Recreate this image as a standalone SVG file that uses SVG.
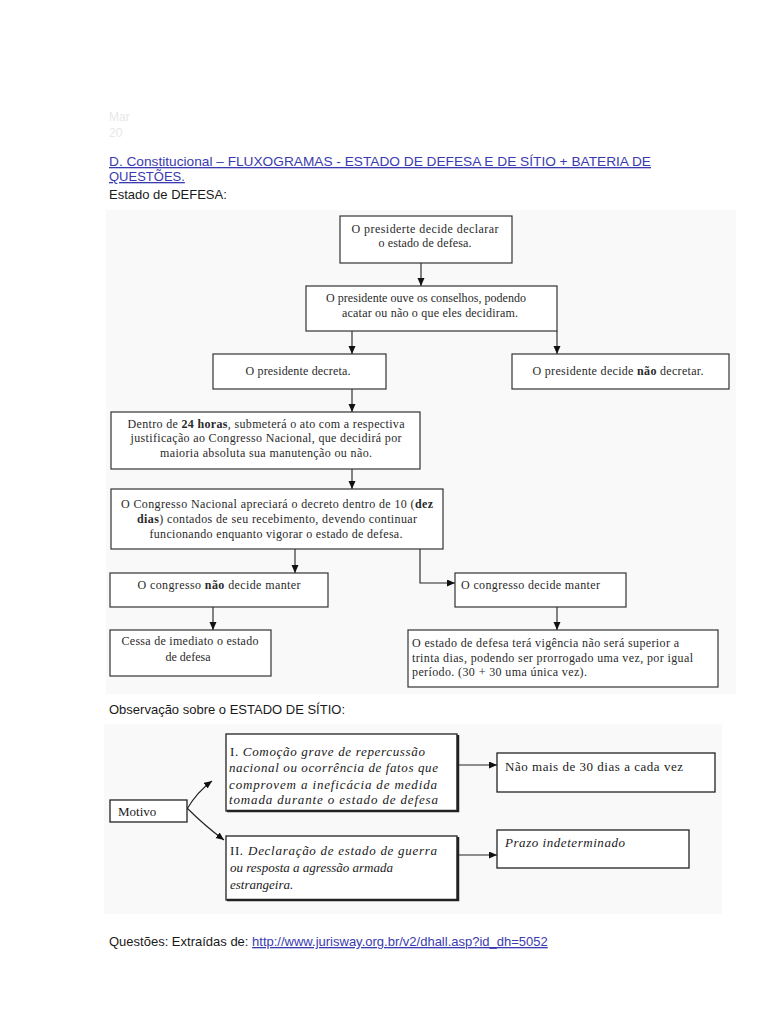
<svg xmlns="http://www.w3.org/2000/svg" width="768" height="1024" viewBox="0 0 768 1024">
<style>
.bg{fill:#ffffff}
.area{fill:#f9f9f9}
.box{fill:#ffffff;stroke:#333;stroke-width:1.2}
.box2{fill:#ffffff;stroke:#222;stroke-width:1.3}
.sh{fill:none;stroke:#222;stroke-width:2.5}
.ln{fill:none;stroke:#222;stroke-width:1.1}
.sans{font-family:"Liberation Sans",Arial,sans-serif;font-size:13px;fill:#1a1a1a}
.link{fill:#3a3ab0;text-decoration:underline}
.faint{font-family:"Liberation Sans",Arial,sans-serif;font-size:12px;fill:#e8e8e8}
.t{font-family:"Liberation Serif","Times New Roman",serif;font-size:12px;fill:#2a2a2a}
.tc{text-anchor:middle}
.ti{font-family:"Liberation Serif","Times New Roman",serif;font-size:13px;fill:#1a1a1a;font-style:italic}
.tn{font-family:"Liberation Serif","Times New Roman",serif;font-size:13px;fill:#1a1a1a}
.b{font-weight:bold}
.up{font-style:normal}
</style>
<defs>
<marker id="ah" markerUnits="userSpaceOnUse" markerWidth="9" markerHeight="8" refX="8" refY="3.5" orient="auto">
<path d="M0,0 L8,3.5 L0,7 z" fill="#111"/>
</marker>
</defs>
<rect class="bg" x="0" y="0" width="768" height="1024"/>
<rect class="area" x="106" y="210" width="630" height="484"/>
<rect class="area" x="104" y="724" width="618" height="190"/>

<g id="header">
<text class="faint" x="109" y="121">Mar</text>
<text class="faint" x="109" y="137">20</text>
<text class="sans link" x="109" y="166" textLength="542" lengthAdjust="spacingAndGlyphs">D. Constitucional – FLUXOGRAMAS - ESTADO DE DEFESA E DE SÍTIO + BATERIA DE</text>
<text class="sans link" x="109" y="181">QUESTÕES.</text>
<text class="sans" x="109" y="199">Estado de DEFESA:</text>
<text class="sans" x="109" y="714">Observação sobre o ESTADO DE SÍTIO:</text>
<text class="sans" x="109" y="946">Questões: Extraídas de: <tspan class="link">http://www.jurisway.org.br/v2/dhall.asp?id_dh=5052</tspan></text>
</g>

<g id="connectors">
<line class="ln" x1="421" y1="263" x2="421" y2="286" marker-end="url(#ah)"/>
<line class="ln" x1="352" y1="331" x2="352" y2="354" marker-end="url(#ah)"/>
<line class="ln" x1="557" y1="331" x2="557" y2="354" marker-end="url(#ah)"/>
<line class="ln" x1="352" y1="389" x2="352" y2="412" marker-end="url(#ah)"/>
<line class="ln" x1="352" y1="469" x2="352" y2="489" marker-end="url(#ah)"/>
<line class="ln" x1="295" y1="549" x2="295" y2="573" marker-end="url(#ah)"/>
<polyline class="ln" points="420,549 420,583 455,583" marker-end="url(#ah)"/>
<line class="ln" x1="213" y1="607" x2="213" y2="630" marker-end="url(#ah)"/>
<line class="ln" x1="557" y1="607" x2="557" y2="630" marker-end="url(#ah)"/>
<path class="ln" d="M187,809 Q197,792 212,781" marker-end="url(#ah)"/>
<path class="ln" d="M187,808 Q205,826 224,840" marker-end="url(#ah)"/>
<line class="ln" x1="458" y1="765" x2="497" y2="765" marker-end="url(#ah)"/>
<line class="ln" x1="458" y1="855" x2="497" y2="855" marker-end="url(#ah)"/>
</g>

<g id="n1">
<rect class="box" x="340" y="216" width="172" height="47"/>
<text class="t tc" x="425" y="233" textLength="147" lengthAdjust="spacing">O presiderte decide declarar</text>
<text class="t tc" x="425" y="247" textLength="93" lengthAdjust="spacing">o estado de defesa.</text>
</g>
<g id="n2">
<rect class="box" x="306" y="286" width="251" height="45"/>
<text class="t tc" x="426" y="302" textLength="200" lengthAdjust="spacing">O presidente ouve os conselhos, podendo</text>
<text class="t tc" x="430" y="317" textLength="176" lengthAdjust="spacing">acatar ou não o que eles decidiram.</text>
</g>
<g id="n3">
<rect class="box" x="213" y="354" width="173" height="35"/>
<text class="t tc" x="298" y="375" textLength="105" lengthAdjust="spacing">O presidente decreta.</text>
</g>
<g id="n4">
<rect class="box" x="512" y="354" width="217" height="35"/>
<text class="t tc" x="618" y="375" textLength="171" lengthAdjust="spacing">O presidente decide <tspan class="b">não</tspan> decretar.</text>
</g>
<g id="n5">
<rect class="box" x="111" y="412" width="309" height="57"/>
<text class="t tc" x="266" y="428" textLength="277" lengthAdjust="spacing">Dentro de <tspan class="b">24 horas</tspan>, submeterá o ato com a respectiva</text>
<text class="t tc" x="266" y="442" textLength="271" lengthAdjust="spacing">justificação ao Congresso Nacional, que decidirá por</text>
<text class="t tc" x="266" y="457" textLength="212" lengthAdjust="spacing">maioria absoluta sua manutenção ou não.</text>
</g>
<g id="n6">
<rect class="box" x="111" y="489" width="332" height="60"/>
<text class="t tc" x="277" y="508" textLength="312" lengthAdjust="spacing">O Congresso Nacional apreciará o decreto dentro de 10 (<tspan class="b">dez</tspan></text>
<text class="t tc" x="277" y="523" textLength="280" lengthAdjust="spacing"><tspan class="b">dias</tspan>) contados de seu recebimento, devendo continuar</text>
<text class="t tc" x="276" y="538" textLength="253" lengthAdjust="spacing">funcionando enquanto vigorar o estado de defesa.</text>
</g>
<g id="n7a">
<rect class="box" x="110" y="573" width="218" height="34"/>
<text class="t tc" x="219" y="589" textLength="163" lengthAdjust="spacing">O congresso <tspan class="b">não</tspan> decide manter</text>
</g>
<g id="n7b">
<rect class="box" x="455" y="573" width="171" height="34"/>
<text class="t" x="461" y="589" textLength="139" lengthAdjust="spacing">O congresso decide manter</text>
</g>
<g id="n8a">
<rect class="box" x="110" y="630" width="161" height="46"/>
<text class="t tc" x="190" y="645" textLength="137" lengthAdjust="spacing">Cessa de imediato o estado</text>
<text class="t tc" x="188" y="661">de defesa</text>
</g>
<g id="n8b">
<rect class="box" x="408" y="630" width="310" height="57"/>
<text class="t" x="412" y="647" textLength="267" lengthAdjust="spacing">O estado de defesa terá vigência não será superior a</text>
<text class="t" x="412" y="662" textLength="281" lengthAdjust="spacing">trinta dias, podendo ser prorrogado uma vez, por igual</text>
<text class="t" x="412" y="676" textLength="175" lengthAdjust="spacing">período. (30 + 30 uma única vez).</text>
</g>

<g id="motivo">
<rect class="box2" x="110" y="800" width="77" height="22"/>
<text class="tn" x="118" y="816">Motivo</text>
</g>
<g id="s1">
<rect class="box2" x="226" y="734" width="231" height="77"/>
<polyline class="sh" points="227,811 458,811 458,735"/>
<text class="ti" x="230" y="756" textLength="195" lengthAdjust="spacing"><tspan class="up">I.</tspan> Comoção grave de repercussão</text>
<text class="ti" x="229" y="772" textLength="209" lengthAdjust="spacing">nacional ou ocorrência de fatos que</text>
<text class="ti" x="229" y="789" textLength="208" lengthAdjust="spacing">comprovem a ineficácia de medida</text>
<text class="ti" x="229" y="804" textLength="209" lengthAdjust="spacing">tomada durante o estado de defesa</text>
</g>
<g id="s2">
<rect class="box2" x="226" y="836" width="231" height="64"/>
<polyline class="sh" points="227,900 458,900 458,837"/>
<text class="ti" x="230" y="855" textLength="207" lengthAdjust="spacing"><tspan class="up">II</tspan>. Declaração de estado de guerra</text>
<text class="ti" x="230" y="872" textLength="163" lengthAdjust="spacing">ou resposta a agressão armada</text>
<text class="ti" x="230" y="889">estrangeira.</text>
</g>
<g id="r1">
<rect class="box2" x="497" y="753" width="218" height="39"/>
<text class="tn" x="505" y="771" textLength="178" lengthAdjust="spacing">Não mais de 30 dias a cada vez</text>
</g>
<g id="r2">
<rect class="box2" x="497" y="830" width="192" height="38"/>
<text class="ti" x="505" y="847" textLength="120" lengthAdjust="spacing">Prazo indeterminado</text>
</g>
</svg>
